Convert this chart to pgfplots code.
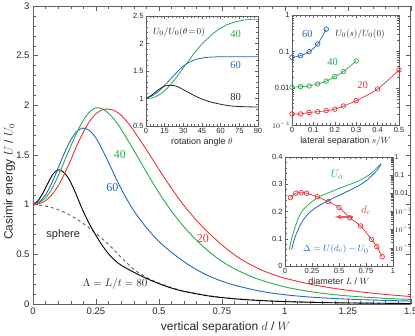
\documentclass[border=0pt]{standalone}
\usepackage{pgfplots}
\pgfplotsset{compat=1.18}
\usepackage{fontspec}
\setmainfont{Liberation Sans}
\newfontfamily\tms{Liberation Serif}

\definecolor{cred}{RGB}{232,52,58}
\definecolor{cgreen}{RGB}{44,170,76}
\definecolor{cblue}{RGB}{38,104,196}
\definecolor{axgray}{RGB}{95,95,95}
\definecolor{txtgray}{RGB}{40,40,40}

\pgfplotsset{
  myframe/.style={
    axis line style={axgray, line width=0.6pt},
    every tick/.style={axgray, line width=0.4pt},
    tick align=inside,
    /pgf/number format/assume math mode=true,
    tick label style={text=txtgray},
    label style={text=txtgray},
  },
  inset/.style={
    myframe, scale only axis, anchor=south west,
    axis background/.style={fill=white},
    tick label style={font=\fontsize{7.5}{8}\selectfont},
    label style={font=\fontsize{9}{10}\selectfont},
    major tick length=3pt, minor tick length=1.8pt,
    xticklabel shift=-1pt, yticklabel shift=-1pt,
    x label style={yshift=3pt},
  },
}

\begin{document}
\begin{tikzpicture}
% main panel
\begin{axis}[myframe, name=main, at={(0,0)}, anchor=south west,
  scale only axis, width=377.7pt, height=298pt,
  xmin=0, xmax=1.5, ymin=0, ymax=3,
  xtick={0,0.25,0.5,0.75,1,1.25,1.5}, ytick={0,0.5,1,1.5,2,2.5,3},
  minor x tick num=4, minor y tick num=4,
  major tick length=5pt, minor tick length=3pt,
  tick label style={font=\fontsize{9.5}{11}\selectfont},
  label style={font=\fontsize{12}{14}\selectfont},
  xlabel={vertical separation $d$ / $W$},
  ylabel={Casimir energy $U$ / $U_0$},
  x label style={at={(axis description cs:0.51,-0.077)}, anchor=center},
  y label style={at={(axis description cs:-0.062,0.41)}, anchor=center},
  every axis plot/.append style={line width=0.9pt},
]
% sphere
\addplot[axgray, dashed, smooth] coordinates {
  (0,1) (0.05,0.985) (0.1,0.95) (0.15,0.89) (0.2,0.81) (0.25,0.71) (0.3,0.6)
  (0.35,0.47) (0.4,0.35) (0.45,0.27) (0.5,0.21) (0.55,0.165) (0.6,0.13)
  (0.7,0.083) (0.8,0.055) (0.9,0.038) (1.0,0.027) (1.1,0.019) (1.2,0.014)
  (1.35,0.009) (1.5,0.006)};
% 80
\addplot[black, smooth] coordinates {
  (0,1) (0.02,1.04) (0.04,1.12) (0.06,1.22) (0.08,1.31) (0.1,1.35) (0.12,1.33)
  (0.14,1.27) (0.16,1.17) (0.18,1.05) (0.2,0.93) (0.225,0.8) (0.25,0.69)
  (0.275,0.59) (0.3,0.505) (0.325,0.44) (0.35,0.39) (0.4,0.32) (0.45,0.258)
  (0.5,0.205) (0.55,0.16) (0.6,0.127) (0.7,0.08) (0.8,0.052) (0.9,0.035)
  (1.0,0.024) (1.1,0.017) (1.2,0.012) (1.35,0.008) (1.5,0.005)};
% 60
\addplot[cblue, smooth] coordinates {
  (0,1) (0.025,1.03) (0.05,1.1) (0.075,1.22) (0.1,1.37) (0.125,1.52) (0.15,1.65)
  (0.175,1.74) (0.2,1.77) (0.225,1.745) (0.25,1.67) (0.275,1.555) (0.3,1.425)
  (0.325,1.29) (0.35,1.16) (0.375,1.045) (0.4,0.94) (0.45,0.77) (0.5,0.63)
  (0.55,0.52) (0.6,0.425) (0.65,0.345) (0.7,0.28) (0.75,0.23) (0.8,0.19)
  (0.9,0.13) (1.0,0.093) (1.1,0.07) (1.2,0.055) (1.3,0.044) (1.4,0.036) (1.5,0.03)};
% 40
\addplot[cgreen, smooth] coordinates {
  (0,1) (0.025,1.02) (0.05,1.07) (0.075,1.16) (0.1,1.29) (0.125,1.44) (0.15,1.59)
  (0.175,1.73) (0.2,1.85) (0.225,1.935) (0.25,1.975) (0.275,1.965) (0.3,1.92)
  (0.325,1.85) (0.35,1.76) (0.4,1.55) (0.45,1.33) (0.5,1.12) (0.55,0.935)
  (0.6,0.775) (0.65,0.64) (0.7,0.525) (0.75,0.43) (0.8,0.355) (0.85,0.295)
  (0.9,0.245) (1.0,0.172) (1.1,0.125) (1.2,0.093) (1.3,0.072) (1.4,0.057) (1.5,0.046)};
% 20
\addplot[cred, smooth] coordinates {
  (0,1) (0.025,1.01) (0.05,1.04) (0.075,1.1) (0.1,1.19) (0.125,1.31) (0.15,1.45)
  (0.175,1.6) (0.2,1.73) (0.225,1.84) (0.25,1.915) (0.275,1.955) (0.3,1.962)
  (0.325,1.945) (0.35,1.9) (0.375,1.83) (0.4,1.745) (0.45,1.555) (0.5,1.355)
  (0.55,1.165) (0.6,0.99) (0.65,0.84) (0.7,0.71) (0.75,0.595) (0.8,0.495)
  (0.85,0.415) (0.9,0.35) (0.95,0.3) (1.0,0.26) (1.1,0.2) (1.2,0.156)
  (1.3,0.122) (1.4,0.096) (1.5,0.075)};
\node[text=cgreen, font=\tms\fontsize{12}{14}\selectfont] at (axis cs:0.345,1.5) {40};
\node[text=cblue, font=\tms\fontsize{12}{14}\selectfont] at (axis cs:0.315,1.17) {60};
\node[text=cred, font=\tms\fontsize{12}{14}\selectfont] at (axis cs:0.675,0.66) {20};
\node[text=txtgray, font=\fontsize{11}{13}\selectfont] at (axis cs:0.12,0.7) {sphere};
\node[text=txtgray, font=\fontsize{11}{13}\selectfont] at (axis cs:0.326,0.2) {$\Lambda = L/t = 80$};
\end{axis}

% rotation inset
\begin{axis}[inset, at={(113pt,178pt)}, width=112pt, height=110pt,
  xmin=0, xmax=90, ymin=0.5, ymax=2.5,
  xtick={0,15,30,45,60,75,90}, ytick={0.5,1,1.5,2,2.5},
  minor x tick num=4, minor y tick num=4,
  xlabel={rotation angle $\theta$},
  every axis plot/.append style={line width=0.8pt},
]
\addplot[cgreen, smooth] coordinates {
  (0,1) (5,1.01) (10,1.06) (15,1.14) (20,1.26) (25,1.4) (30,1.56) (35,1.71)
  (40,1.86) (45,1.99) (50,2.1) (55,2.2) (60,2.28) (65,2.34) (70,2.38)
  (75,2.41) (80,2.43) (85,2.44) (90,2.44)};
\addplot[cblue, smooth] coordinates {
  (0,1) (5,1.05) (10,1.13) (15,1.24) (20,1.36) (25,1.48) (30,1.59) (35,1.66)
  (40,1.71) (45,1.735) (50,1.75) (55,1.755) (60,1.76) (70,1.76) (80,1.76) (90,1.76)};
\addplot[black!85, smooth] coordinates {
  (0,1) (5,1.07) (10,1.16) (15,1.225) (20,1.24) (25,1.22) (30,1.16) (35,1.1)
  (40,1.04) (45,0.99) (50,0.95) (55,0.92) (60,0.895) (65,0.875) (70,0.86)
  (80,0.85) (90,0.845)};
\node[text=txtgray, font=\fontsize{9.5}{11}\selectfont] at (axis cs:26.5,2.21) {$U_0/U_0(\theta\!=\!0)$};
\node[text=cgreen, font=\tms\fontsize{10.5}{12}\selectfont] at (axis cs:72,2.18) {40};
\node[text=cblue, font=\tms\fontsize{10.5}{12}\selectfont] at (axis cs:72,1.61) {60};
\node[text=txtgray, font=\tms\fontsize{10.5}{12}\selectfont] at (axis cs:72,1.03) {80};
\end{axis}

% lateral inset
\begin{axis}[inset, at={(259pt,179pt)}, width=107pt, height=110pt,
  xmin=0, xmax=0.5, ymode=log, ymin=1e-3, ymax=1,
  xtick={0,0.1,0.2,0.3,0.4,0.5}, minor x tick num=4,
  ytick={1e-3,1e-2,1e-1,1},
  minor ytick={2e-3,3e-3,4e-3,5e-3,6e-3,7e-3,8e-3,9e-3,
    2e-2,3e-2,4e-2,5e-2,6e-2,7e-2,8e-2,9e-2,0.2,0.3,0.4,0.5,0.6,0.7,0.8,0.9},
  yticklabels={$10^{-3}$,0.01,0.1,1},
  xlabel={lateral separation $s/W$},
  every axis plot/.append style={line width=0.7pt, mark=o, mark size=2.3pt},
]
\addplot[cred, smooth] coordinates {
  (0,0.002) (0.04,0.002) (0.08,0.0022) (0.12,0.0023) (0.16,0.00246)
  (0.2,0.0027) (0.24,0.0033) (0.3,0.0046) (0.4,0.0096) (0.5,0.0316)};
\addplot[cgreen, smooth] coordinates {
  (0,0.0107) (0.04,0.0111) (0.08,0.0116) (0.12,0.0132) (0.16,0.0158)
  (0.2,0.0209) (0.24,0.0285) (0.3,0.0556)};
\addplot[cblue, smooth] coordinates {
  (0,0.07) (0.04,0.078) (0.08,0.1) (0.12,0.162) (0.16,0.41)};
\node[text=cblue, font=\tms\fontsize{10.5}{12}\selectfont] at (axis cs:0.072,0.3) {60};
\node[text=txtgray, font=\fontsize{9.5}{11}\selectfont] at (axis cs:0.318,0.3) {$U_0(s)/U_0(0)$};
\node[text=cgreen, font=\tms\fontsize{10.5}{12}\selectfont] at (axis cs:0.19,0.053) {40};
\node[text=cred, font=\tms\fontsize{10.5}{12}\selectfont] at (axis cs:0.33,0.0124) {20};
\end{axis}

% diameter inset, left axis d_c
\begin{axis}[inset, at={(252pt,38pt)}, width=108pt, height=109pt,
  xmin=0, xmax=1, ymin=0, ymax=0.4,
  xtick={0,0.25,0.5,0.75,1}, minor x tick num=4,
  ytick={0,0.1,0.2,0.3,0.4}, minor y tick num=4,
  ytick pos=left,
  xlabel={diameter $L$ / $W$},
]
\addplot[cred, smooth, line width=0.7pt, mark=o, mark size=2.3pt] coordinates {
  (0.05,0.251) (0.1,0.267) (0.15,0.269) (0.2,0.267) (0.3,0.254) (0.4,0.236)
  (0.5,0.215) (0.6,0.177) (0.7,0.147) (0.8,0.098) (0.85,0.071) (0.9,0.034)};
\draw[cred!80, line width=1.2pt, -{latex}] (axis cs:0.63,0.18) -- (axis cs:0.46,0.18);
\node[text=cred, font=\fontsize{10.5}{12}\selectfont] at (axis cs:0.75,0.205) {$d_c$};
\node[text=cgreen, font=\fontsize{10.5}{12}\selectfont] at (axis cs:0.48,0.334) {$U_0$};
\node[text=cblue, font=\fontsize{9.5}{11}\selectfont] at (axis cs:0.47,0.06) {$\Delta = U(d_c) - U_0$};
\end{axis}

% diameter inset, right log axis
\begin{axis}[inset, axis background/.style={}, at={(252pt,38pt)}, width=108pt, height=109pt,
  xmin=0, xmax=1, ymode=log, ymin=1e-6, ymax=1,
  hide x axis, axis y line*=right,
  tick label style={font=\fontsize{7}{8}\selectfont},
  yticklabel shift=-2pt,
  ytick={1e-5,1e-4,1e-3,1e-2,1e-1,1},
  yticklabels={$10^{-5}$,$10^{-4}$,$10^{-3}$,0.01,0.1,1},
  minor ytick={2e-6,3e-6,4e-6,5e-6,6e-6,7e-6,8e-6,9e-6,
    2e-5,3e-5,4e-5,5e-5,6e-5,7e-5,8e-5,9e-5,
    2e-4,3e-4,4e-4,5e-4,6e-4,7e-4,8e-4,9e-4,
    2e-3,3e-3,4e-3,5e-3,6e-3,7e-3,8e-3,9e-3,
    2e-2,3e-2,4e-2,5e-2,6e-2,7e-2,8e-2,9e-2,
    0.2,0.3,0.4,0.5,0.6,0.7,0.8,0.9},
  every axis plot/.append style={line width=0.8pt},
]
\addplot[cgreen, smooth] coordinates {
  (0.04,8e-6) (0.06,3e-5) (0.08,7.5e-5) (0.1,1.8e-4) (0.125,4.5e-4) (0.16,1.1e-3)
  (0.2,1.9e-3) (0.25,3.5e-3) (0.32,6.6e-3) (0.4,1.05e-2) (0.48,1.65e-2)
  (0.56,2.5e-2) (0.63,3.6e-2) (0.7,5.5e-2) (0.75,8e-2) (0.8,0.13) (0.84,0.22) (0.89,0.44)};
\addplot[cblue, smooth] coordinates {
  (0.062,8e-6) (0.08,2.2e-5) (0.108,6.6e-5) (0.14,1.7e-4) (0.17,3.5e-4) (0.21,7e-4)
  (0.26,1.26e-3) (0.32,2.2e-3) (0.385,3.5e-3) (0.46,6e-3) (0.54,1e-2) (0.62,1.7e-2)
  (0.69,2.8e-2) (0.75,4.8e-2) (0.8,8.9e-2) (0.85,0.18) (0.89,0.4)};
\end{axis}

\pgfresetboundingbox
\path (-33pt,-32pt) rectangle (382pt,304pt);
\end{tikzpicture}
\end{document}
